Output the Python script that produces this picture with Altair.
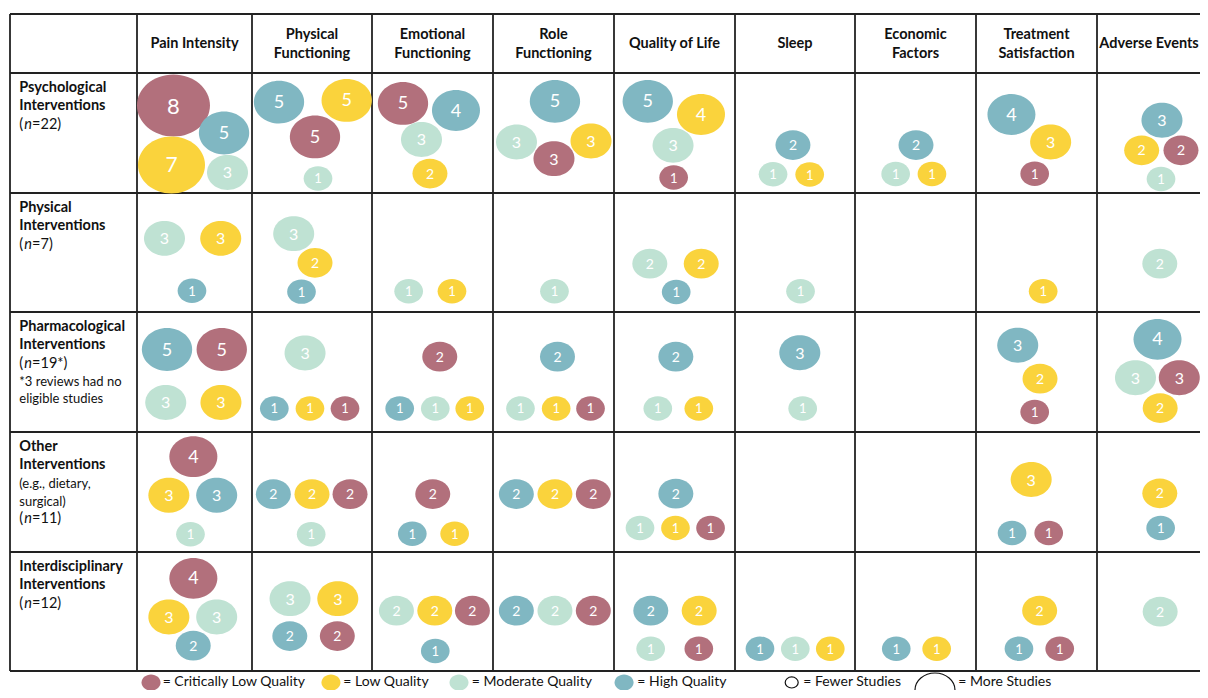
import altair as alt
import pandas as pd

FONT = "Lato"

# ---------------- data ----------------
OUTCOME_TITLES = [
    ["Pain Intensity"], ["Physical", "Functioning"], ["Emotional", "Functioning"],
    ["Role", "Functioning"], ["Quality of Life"], ["Sleep"], ["Economic", "Factors"],
    ["Treatment", "Satisfaction"], ["Adverse Events"],
]
ROW_TITLES = [
    ["Psychological", "Interventions"],
    ["Physical", "Interventions"],
    ["Pharmacological", "Interventions"],
    ["Other", "Interventions"],
    ["Interdisciplinary", "Interventions"],
]
ROW_N = ["=22)", "=7)", "=19*)", "=11)", "=12)"]
ROW_NOTES = [[], [], ["*3 reviews had no", "eligible studies"], ["(e.g., dietary,", "surgical)"], []]

QUALITY_CODES = ["CL", "L", "M", "H"]
QUALITY_NAMES = ["Critically Low Quality", "Low Quality", "Moderate Quality", "High Quality"]
QUALITY_COLORS = ["#B2707C", "#FAD33C", "#BFE2D3", "#80B7C2"]

# (outcome column, quality, number of reviews)
PSYCH = [(1, "CL", 8), (1, "H", 5), (1, "L", 7), (1, "M", 3),
         (2, "H", 5), (2, "L", 5), (2, "CL", 5), (2, "M", 1),
         (3, "CL", 5), (3, "H", 4), (3, "M", 3), (3, "L", 2),
         (4, "H", 5), (4, "M", 3), (4, "CL", 3), (4, "L", 3),
         (5, "H", 5), (5, "L", 4), (5, "M", 3), (5, "CL", 1),
         (6, "H", 2), (6, "M", 1), (6, "L", 1),
         (7, "H", 2), (7, "M", 1), (7, "L", 1),
         (8, "H", 4), (8, "L", 3), (8, "CL", 1),
         (9, "H", 3), (9, "L", 2), (9, "CL", 2), (9, "M", 1)]
PHYS = [(1, "M", 3), (1, "L", 3), (1, "H", 1),
        (2, "M", 3), (2, "L", 2), (2, "H", 1),
        (3, "M", 1), (3, "L", 1),
        (4, "M", 1),
        (5, "M", 2), (5, "L", 2), (5, "H", 1),
        (6, "M", 1),
        (8, "L", 1),
        (9, "M", 2)]
PHARM = [(1, "H", 5), (1, "CL", 5), (1, "M", 3), (1, "L", 3),
         (2, "M", 3), (2, "H", 1), (2, "L", 1), (2, "CL", 1),
         (3, "CL", 2), (3, "H", 1), (3, "M", 1), (3, "L", 1),
         (4, "H", 2), (4, "M", 1), (4, "L", 1), (4, "CL", 1),
         (5, "H", 2), (5, "M", 1), (5, "L", 1),
         (6, "H", 3), (6, "M", 1),
         (8, "H", 3), (8, "L", 2), (8, "CL", 1),
         (9, "H", 4), (9, "M", 3), (9, "CL", 3), (9, "L", 2)]
OTHER = [(1, "CL", 4), (1, "L", 3), (1, "H", 3), (1, "M", 1),
         (2, "H", 2), (2, "L", 2), (2, "CL", 2), (2, "M", 1),
         (3, "CL", 2), (3, "H", 1), (3, "L", 1),
         (4, "H", 2), (4, "L", 2), (4, "CL", 2),
         (5, "H", 2), (5, "M", 1), (5, "L", 1), (5, "CL", 1),
         (8, "L", 3), (8, "H", 1), (8, "CL", 1),
         (9, "L", 2), (9, "H", 1)]
INTER = [(1, "CL", 4), (1, "L", 3), (1, "M", 3), (1, "H", 2),
         (2, "M", 3), (2, "L", 3), (2, "H", 2), (2, "CL", 2),
         (3, "M", 2), (3, "L", 2), (3, "CL", 2), (3, "H", 1),
         (4, "H", 2), (4, "M", 2), (4, "CL", 2),
         (5, "H", 2), (5, "L", 2), (5, "M", 1), (5, "CL", 1),
         (6, "H", 1), (6, "M", 1), (6, "L", 1),
         (7, "H", 1), (7, "L", 1),
         (8, "L", 2), (8, "H", 1), (8, "CL", 1),
         (9, "M", 2)]

# ---------------- layout (fractional position of each bubble inside its cell) ----------------
PSYCH_POS = [(0.317, 0.271), (0.757, 0.50), (0.30, 0.767), (0.787, 0.829),
             (0.225, 0.242), (0.789, 0.229), (0.525, 0.533), (0.55, 0.879),
             (0.256, 0.254), (0.694, 0.3125), (0.409, 0.554), (0.479, 0.8375),
             (0.512, 0.236), (0.194, 0.575), (0.504, 0.714), (0.81, 0.567),
             (0.279, 0.236), (0.719, 0.346), (0.488, 0.603), (0.493, 0.871),
             (0.483, 0.60), (0.317, 0.844), (0.6225, 0.846),
             (0.504, 0.60), (0.336, 0.842), (0.636, 0.842),
             (0.293, 0.346), (0.617, 0.575), (0.485, 0.839),
             (0.537, 0.394), (0.369, 0.644), (0.694, 0.644), (0.529, 0.883)]
PHYS_POS = [(0.239, 0.381), (0.728, 0.381), (0.478, 0.822),
            (0.3475, 0.342), (0.525, 0.587), (0.4125, 0.829),
            (0.303, 0.826), (0.661, 0.826),
            (0.508, 0.826),
            (0.296, 0.594), (0.721, 0.594), (0.514, 0.832),
            (0.546, 0.826),
            (0.555, 0.826),
            (0.519, 0.594)]
PHARM_POS = [(0.261, 0.3125), (0.737, 0.3125), (0.25, 0.754), (0.73, 0.754),
             (0.442, 0.342), (0.186, 0.804), (0.483, 0.804), (0.775, 0.804),
             (0.56, 0.3725), (0.229, 0.804), (0.523, 0.804), (0.808, 0.804),
             (0.533, 0.3725), (0.227, 0.804), (0.522, 0.804), (0.806, 0.804),
             (0.511, 0.3725), (0.362, 0.804), (0.701, 0.804),
             (0.54, 0.34), (0.564, 0.804),
             (0.345, 0.277), (0.529, 0.556), (0.485, 0.833),
             (0.5, 0.2275), (0.318, 0.5475), (0.68, 0.5475), (0.522, 0.80)]
OTHER_POS = [(0.49, 0.206), (0.277, 0.5275), (0.693, 0.5275), (0.465, 0.8525),
             (0.178, 0.518), (0.50, 0.518), (0.817, 0.518), (0.493, 0.852),
             (0.502, 0.517), (0.333, 0.8475), (0.683, 0.8475),
             (0.193, 0.517), (0.512, 0.517), (0.829, 0.517),
             (0.511, 0.514), (0.215, 0.80), (0.508, 0.80), (0.798, 0.80),
             (0.456, 0.396), (0.298, 0.842), (0.601, 0.842),
             (0.519, 0.511), (0.526, 0.80)]
INTER_POS = [(0.49, 0.221), (0.277, 0.546), (0.693, 0.546), (0.489, 0.787),
             (0.317, 0.392), (0.715, 0.392), (0.315, 0.706), (0.711, 0.706),
             (0.202, 0.493), (0.519, 0.493), (0.83, 0.493), (0.523, 0.832),
             (0.193, 0.493), (0.512, 0.493), (0.829, 0.493),
             (0.304, 0.493), (0.704, 0.493), (0.303, 0.8125), (0.701, 0.8125),
             (0.208, 0.8125), (0.5025, 0.8125), (0.794, 0.8125),
             (0.341, 0.8125), (0.675, 0.8125),
             (0.526, 0.493), (0.355, 0.8125), (0.692, 0.8125),
             (0.522, 0.502)]

ROW_BUBBLES = [PSYCH, PHYS, PHARM, OTHER, INTER]
ROW_POS = [PSYCH_POS, PHYS_POS, PHARM_POS, OTHER_POS, INTER_POS]

# bubble size / number size per review count
COUNT_DOMAIN = [1, 2, 3, 4, 5, 7, 8]
BUBBLE_AREA = [824, 1225, 1681, 2304, 2530, 4489, 5329]
NUMBER_FONT = [13, 14, 16, 18, 18, 21, 22]

# grid geometry (column / row boundaries in pixels)
COL_EDGES = [2, 129, 244, 364, 485, 606, 727, 847, 968, 1089, 1210]
ROW_EDGES = [6, 65, 185, 304, 424, 544, 663, 682]
LINE_FRAC = [0.125, 0.278, 0.435, 0.585, 0.728]
HEADER_FX = [0.5, 0.5, 0.5, 0.5, 0.5, 0.5, 0.5, 0.5, 0.43]
ELLIPSE = "M-1,0A1,0.85,0,1,0,1,0A1,0.85,0,1,0,-1,0Z"
LABEL_SIZE = 14.5

# ---------------- build tables ----------------
qname = dict(zip(QUALITY_CODES, QUALITY_NAMES))
brows = []
for r, (bubbles, pos) in enumerate(zip(ROW_BUBBLES, ROW_POS), start=1):
    for (c, q, n), (fx, fy) in zip(bubbles, pos):
        brows.append({"x": c + fx, "y": r + fy, "quality": qname[q], "count": n, "label": str(n)})
bdf = pd.DataFrame(brows)

xs = alt.Scale(domain=list(range(len(COL_EDGES))), range=COL_EDGES, zero=False, nice=False)
ys = alt.Scale(domain=list(range(len(ROW_EDGES))), range=ROW_EDGES, zero=False, nice=False)
X = lambda f: alt.X(f, type="quantitative", scale=xs, axis=None)
Y = lambda f: alt.Y(f, type="quantitative", scale=ys, axis=None)

ncols = len(OUTCOME_TITLES) + 1
nrows = len(ROW_TITLES) + 1
vdf = pd.DataFrame({"x": list(range(ncols + 1)), "y0": 0, "y1": nrows})
hdf = pd.DataFrame({"y": list(range(nrows + 1)), "x0": 0, "x1": ncols})

vlines = alt.Chart(vdf).mark_rule(color="#222222", strokeWidth=1.8).encode(
    x=X("x"), y=Y("y0"), y2="y1:Q")
hlines = alt.Chart(hdf).mark_rule(color="#222222", strokeWidth=1.8).encode(
    y=Y("y"), x=X("x0"), x2="x1:Q")

bubbles = alt.Chart(bdf).mark_point(shape=ELLIPSE, filled=True, opacity=1, strokeWidth=0).encode(
    x=X("x"), y=Y("y"),
    size=alt.Size("count:Q", scale=alt.Scale(domain=COUNT_DOMAIN, range=BUBBLE_AREA), legend=None),
    color=alt.Color("quality:N", scale=alt.Scale(domain=QUALITY_NAMES, range=QUALITY_COLORS), legend=None),
)
numbers = alt.Chart(bdf).mark_text(color="white", font=FONT, baseline="middle", align="center", dy=1).encode(
    x=X("x"), y=Y("y"), text="label:N",
    size=alt.Size("count:Q", scale=alt.Scale(domain=COUNT_DOMAIN, range=NUMBER_FONT), legend=None),
)

# header
hrows = []
for c, (lines, hfx) in enumerate(zip(OUTCOME_TITLES, HEADER_FX), start=1):
    fr = [0.508] if len(lines) == 1 else [0.36, 0.67]
    for t, f in zip(lines, fr):
        hrows.append({"x": c + hfx, "y": f, "t": t})
headers = alt.Chart(pd.DataFrame(hrows)).mark_text(
    font=FONT, fontWeight="bold", fontSize=LABEL_SIZE, color="#111111", baseline="middle", align="center"
).encode(x=X("x"), y=Y("y"), text="t:N")

# row labels
LX = 0.073
bold_rows, note_rows, n_rows = [], [], []
for r, lines in enumerate(ROW_TITLES, start=1):
    for k, t in enumerate(lines):
        bold_rows.append({"x": LX, "y": r + LINE_FRAC[k], "t": t})
    k = len(lines)
    notes = ROW_NOTES[r - 1]
    if r == 4:  # notes before (n=)
        for t in notes:
            note_rows.append({"x": LX, "y": r + LINE_FRAC[k], "t": t})
            k += 1
        n_rows.append({"x": LX, "y": r + LINE_FRAC[k], "t": ROW_N[r - 1]})
    else:
        n_rows.append({"x": LX, "y": r + LINE_FRAC[k], "t": ROW_N[r - 1]})
        k += 1
        for t in notes:
            note_rows.append({"x": LX, "y": r + LINE_FRAC[k], "t": t})
            k += 1
ndf = pd.DataFrame(n_rows)
ndf["open"] = "("
ndf["n"] = "n"

row_bold = alt.Chart(pd.DataFrame(bold_rows)).mark_text(
    font=FONT, fontWeight="bold", fontSize=LABEL_SIZE, color="#111111", baseline="middle", align="left"
).encode(x=X("x"), y=Y("y"), text="t:N")
row_notes = alt.Chart(pd.DataFrame(note_rows)).mark_text(
    font=FONT, fontSize=13, color="#111111", baseline="middle", align="left"
).encode(x=X("x"), y=Y("y"), text="t:N")
n_open = alt.Chart(ndf).mark_text(
    font=FONT, fontSize=LABEL_SIZE, color="#111111", baseline="middle", align="left"
).encode(x=X("x"), y=Y("y"), text="open:N")
n_ital = alt.Chart(ndf).mark_text(
    font=FONT, fontSize=LABEL_SIZE, fontStyle="italic", color="#111111", baseline="middle", align="left", dx=5.0
).encode(x=X("x"), y=Y("y"), text="n:N")
n_rest = alt.Chart(ndf).mark_text(
    font=FONT, fontSize=LABEL_SIZE, color="#111111", baseline="middle", align="left", dx=12.8
).encode(x=X("x"), y=Y("y"), text="t:N")

# legend
LEG_Y = 6.605
LEG_DOT_X = [1.122, 2.658, 3.719, 5.083]
LEG_TXT_X = [1.223, 2.761, 3.824, 5.193]
ldf = pd.DataFrame({"x": LEG_DOT_X, "tx": LEG_TXT_X, "y": LEG_Y, "quality": QUALITY_NAMES,
                    "t": ["= " + q for q in QUALITY_NAMES]})
leg_dots = alt.Chart(ldf).mark_point(shape=ELLIPSE, filled=True, opacity=1, strokeWidth=0).encode(
    x=X("x"), y=Y("y"), size=alt.value(361),
    color=alt.Color("quality:N", scale=alt.Scale(domain=QUALITY_NAMES, range=QUALITY_COLORS), legend=None),
)
STUDY_LABELS = ["= Fewer Studies", "= More Studies"]
sdf = pd.DataFrame({"x": [6.4725, 7.661], "tx": [6.569, 7.854], "y": [LEG_Y, 7.0], "ty": LEG_Y,
                    "s": [13 * 13, 40 * 40], "t": STUDY_LABELS})
leg_open = alt.Chart(sdf).mark_point(shape=ELLIPSE, filled=False, color="#111111", strokeWidth=1.2, opacity=1).encode(
    x=X("x"), y=Y("y"), size=alt.Size("s:Q", scale=None, legend=None))
leg_text = alt.Chart(pd.concat([ldf[["tx", "y", "t"]], sdf[["tx", "ty", "t"]].rename(columns={"ty": "y"})])).mark_text(
    font=FONT, fontSize=14, color="#111111", baseline="middle", align="left"
).encode(x=X("tx"), y=Y("y"), text="t:N")

chart = alt.layer(
    vlines, hlines, bubbles, numbers, headers, row_bold, row_notes, n_open, n_ital, n_rest,
    leg_dots, leg_open, leg_text,
).resolve_scale(size="independent").properties(
    width=1192, height=682, padding=0, autosize=alt.AutoSizeParams(type="none"),
).configure_view(stroke=None)

chart.save("out.html", embed_options={"renderer": "svg", "actions": False})
